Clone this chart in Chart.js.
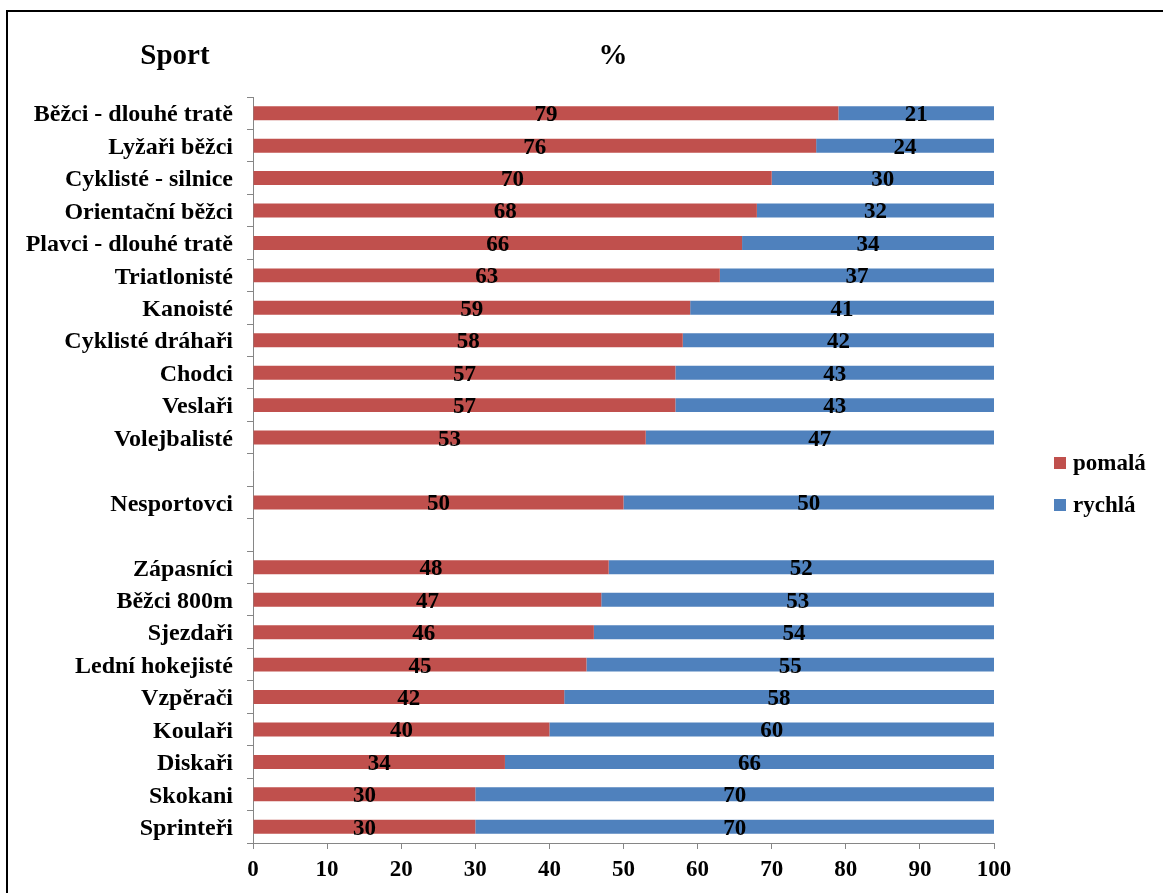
<!DOCTYPE html>
<html>
<head>
<meta charset="utf-8">
<script src="https://cdn.jsdelivr.net/npm/chart.js@4.4.1/dist/chart.umd.min.js"></script>
<style>
  html, body { margin: 0; padding: 0; background: #ffffff; }
  #wrap { width: 1163px; height: 893px; }
</style>
</head>
<body>
<div id="wrap"><canvas id="c" width="1163" height="893"></canvas></div>
<script>
// Sports, top to bottom; empty strings leave a gap row
const categories = [
  'Běžci - dlouhé tratě', 'Lyžaři běžci', 'Cyklisté - silnice', 'Orientační běžci',
  'Plavci - dlouhé tratě', 'Triatlonisté', 'Kanoisté', 'Cyklisté dráhaři',
  'Chodci', 'Veslaři', 'Volejbalisté', '', 'Nesportovci', '',
  'Zápasníci', 'Běžci 800m', 'Sjezdaři', 'Lední hokejisté', 'Vzpěrači',
  'Koulaři', 'Diskaři', 'Skokani', 'Sprinteři'
];
// Share of slow-twitch fibres (%)
const pomala = [79, 76, 70, 68, 66, 63, 59, 58, 57, 57, 53, null, 50, null, 48, 47, 46, 45, 42, 40, 34, 30, 30];
// Share of fast-twitch fibres (%)
const rychla = [21, 24, 30, 32, 34, 37, 41, 42, 43, 43, 47, null, 50, null, 52, 53, 54, 55, 58, 60, 66, 70, 70];
const seriesNames = ['pomalá', 'rychlá'];
const xTicks = [0, 10, 20, 30, 40, 50, 60, 70, 80, 90, 100];

const SERIF = "'Times New Roman', 'Liberation Serif', serif";
const RED = '#C0504D';
const BLUE = '#4F81BD';
const AXIS = '#868686';

// Values written in the middle of every bar segment
const segmentLabels = {
  id: 'segmentLabels',
  afterDatasetsDraw(chart) {
    const ctx = chart.ctx;
    ctx.save();
    ctx.font = 'bold 23px ' + SERIF;
    ctx.fillStyle = '#000000';
    ctx.textAlign = 'center';
    ctx.textBaseline = 'middle';
    chart.data.datasets.forEach((ds, di) => {
      const meta = chart.getDatasetMeta(di);
      meta.data.forEach((el, i) => {
        const v = ds.data[i];
        if (v === null || v === undefined) return;
        const p = el.getProps(['x', 'y', 'base'], true);
        ctx.fillText(String(v), (p.x + p.base) / 2, p.y + 2);
      });
    });
    ctx.restore();
  }
};

// Headings, legend and the frame line
const decorations = {
  id: 'decorations',
  afterDraw(chart) {
    const ctx = chart.ctx;
    ctx.save();
    // frame
    ctx.strokeStyle = '#000000';
    ctx.lineWidth = 2;
    ctx.beginPath();
    ctx.moveTo(7, 893);
    ctx.lineTo(7, 11);
    ctx.lineTo(1163, 11);
    ctx.stroke();

    // headings
    ctx.fillStyle = '#000000';
    ctx.font = 'bold 29px ' + SERIF;
    ctx.textAlign = 'center';
    ctx.textBaseline = 'alphabetic';
    ctx.fillText('Sport', 175, 64);
    ctx.fillText('%', 613, 64);

    // legend
    ctx.font = 'bold 23px ' + SERIF;
    ctx.textAlign = 'left';
    ctx.textBaseline = 'middle';
    chart.data.datasets.forEach((ds, i) => {
      const cy = 463 + i * 42;
      ctx.fillStyle = ds.backgroundColor;
      ctx.fillRect(1054, cy - 6, 12, 12);
      ctx.fillStyle = '#000000';
      ctx.fillText(ds.label, 1073, cy + 1);
    });
    ctx.restore();
  }
};

new Chart(document.getElementById('c'), {
  type: 'bar',
  data: {
    labels: categories,
    datasets: [
      { label: seriesNames[0], data: pomala, backgroundColor: RED, borderWidth: 0 },
      { label: seriesNames[1], data: rychla, backgroundColor: BLUE, borderWidth: 0 }
    ]
  },
  options: {
    indexAxis: 'y',
    responsive: false,
    devicePixelRatio: 1,
    animation: false,
    categoryPercentage: 1,
    barPercentage: 0.43,
    layout: { padding: { left: 10, right: 169, top: 97, bottom: 0 } },
    plugins: {
      legend: { display: false },
      tooltip: { enabled: false },
      title: { display: false }
    },
    scales: {
      x: {
        stacked: true,
        min: 0,
        max: 100,
        afterBuildTicks(scale) { scale.ticks = xTicks.map(v => ({ value: v })); },
        afterFit(scale) { scale.height = 50; },
        grid: { drawOnChartArea: false, drawTicks: true, tickLength: 6, color: AXIS, lineWidth: 1 },
        border: { display: true, color: AXIS, width: 1 },
        ticks: { color: '#000000', padding: 7, font: { family: SERIF, size: 23, weight: 'bold' } }
      },
      y: {
        stacked: true,
        afterFit(scale) { scale.width = 243; },
        grid: { drawOnChartArea: false, drawTicks: true, tickLength: 6, color: AXIS, lineWidth: 1, offset: true },
        border: { display: true, color: AXIS, width: 1 },
        ticks: { color: '#000000', padding: 14, labelOffset: 2, autoSkip: false, font: { family: SERIF, size: 24, weight: 'bold' } }
      }
    }
  },
  plugins: [segmentLabels, decorations]
});
</script>
</body>
</html>
